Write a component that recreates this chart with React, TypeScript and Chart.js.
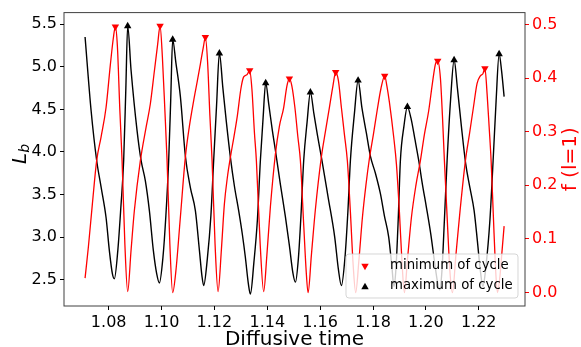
import React, { useEffect, useRef } from 'react';
import { Chart, registerables } from 'chart.js';

Chart.register(...registerables);

// L_b (left axis, black)
const blackTime = [1.07107, 1.07334, 1.07546, 1.07712, 1.07901, 1.08026, 1.0814, 1.08215, 1.08348, 1.08461, 1.08567, 1.0865, 1.08719, 1.08847, 1.09074, 1.09226, 1.09388, 1.0954, 1.09691, 1.09816, 1.09918, 1.1005, 1.10164, 1.1027, 1.10346, 1.10421, 1.10542, 1.10713, 1.10902, 1.11091, 1.1128, 1.11431, 1.11526, 1.11594, 1.11734, 1.11867, 1.11972, 1.12082, 1.12188, 1.12321, 1.12453, 1.12604, 1.12756, 1.12918, 1.13058, 1.13172, 1.13285, 1.13361, 1.13493, 1.13626, 1.13739, 1.13842, 1.1394, 1.14061, 1.14193, 1.14307, 1.14496, 1.14685, 1.14837, 1.14969, 1.15064, 1.15177, 1.15283, 1.15378, 1.15506, 1.15631, 1.15764, 1.15896, 1.16047, 1.16301, 1.16551, 1.16691, 1.16804, 1.16937, 1.1705, 1.17145, 1.17296, 1.17436, 1.1758, 1.1775, 1.17901, 1.18091, 1.1828, 1.18431, 1.18594, 1.18715, 1.18791, 1.18866, 1.18953, 1.19036, 1.19169, 1.19301, 1.19434, 1.19585, 1.19729, 1.19869, 1.2002, 1.20183, 1.20323, 1.20436, 1.20524, 1.20607, 1.20701, 1.20803, 1.20936, 1.21068, 1.21193, 1.21344, 1.21507, 1.21666, 1.21825, 1.2195, 1.22063, 1.22158, 1.22271, 1.22423, 1.22544, 1.22657, 1.22771, 1.22865, 1.2296];
const blackValue = [5.35, 4.49, 3.9, 3.59, 3.23, 2.84, 2.57, 2.51, 2.85, 3.35, 3.9, 4.75, 5.48, 4.96, 4.25, 3.9, 3.66, 3.31, 2.84, 2.57, 2.46, 2.75, 3.25, 3.9, 4.6, 5.32, 5.05, 4.65, 3.95, 3.58, 3.31, 2.85, 2.55, 2.43, 2.75, 3.25, 3.9, 4.55, 5.16, 4.75, 4.35, 3.94, 3.6, 3.31, 3.03, 2.76, 2.45, 2.33, 2.7, 3.2, 3.9, 4.4, 4.81, 4.55, 4.25, 4.02, 3.62, 3.24, 2.9, 2.58, 2.47, 2.75, 3.3, 3.9, 4.35, 4.7, 4.45, 4.2, 3.94, 3.47, 3.0, 2.62, 2.43, 2.75, 3.3, 3.9, 4.45, 4.84, 4.52, 4.22, 3.95, 3.75, 3.51, 3.25, 3.0, 2.65, 2.42, 2.62, 3.2, 3.9, 4.3, 4.53, 4.4, 4.15, 3.9, 3.62, 3.35, 3.04, 2.72, 2.48, 2.38, 2.6, 3.2, 3.9, 4.62, 5.08, 4.75, 4.3, 3.86, 3.58, 3.31, 2.95, 2.6, 2.42, 2.65, 3.2, 3.9, 4.6, 5.15, 4.95, 4.65];

// f (l=1) (right axis, red)
const redTime = [1.07107, 1.07232, 1.07383, 1.07546, 1.07712, 1.07901, 1.08064, 1.08178, 1.08253, 1.08329, 1.08423, 1.08507, 1.08613, 1.08719, 1.08847, 1.08972, 1.09199, 1.09415, 1.09577, 1.09729, 1.09854, 1.09944, 1.10031, 1.10126, 1.10209, 1.10315, 1.10421, 1.10542, 1.10713, 1.10902, 1.11053, 1.11216, 1.11356, 1.11469, 1.11583, 1.11658, 1.11742, 1.11829, 1.11912, 1.12025, 1.12139, 1.12264, 1.12377, 1.12491, 1.12604, 1.12737, 1.12869, 1.13002, 1.13107, 1.13229, 1.13335, 1.13418, 1.13512, 1.13588, 1.13732, 1.13864, 1.13985, 1.14118, 1.14307, 1.14458, 1.14621, 1.14742, 1.14837, 1.14931, 1.15045, 1.15158, 1.15253, 1.15385, 1.15472, 1.15544, 1.15669, 1.1582, 1.16047, 1.16199, 1.1635, 1.16483, 1.16588, 1.16691, 1.16804, 1.16918, 1.17031, 1.17145, 1.17251, 1.17345, 1.17466, 1.17599, 1.17731, 1.17864, 1.18015, 1.18155, 1.18299, 1.18442, 1.18526, 1.1862, 1.18783, 1.18885, 1.18999, 1.19093, 1.19188, 1.19301, 1.19453, 1.19623, 1.19793, 1.19945, 1.20107, 1.20247, 1.20361, 1.20448, 1.2055, 1.20626, 1.20701, 1.20815, 1.20909, 1.21004, 1.21136, 1.21288, 1.21496, 1.21647, 1.21798, 1.21938, 1.22063, 1.22158, 1.22234, 1.22317, 1.22392, 1.22468, 1.22555, 1.22631, 1.22707, 1.22801, 1.22877, 1.2296];
const redValue = [0.027, 0.085, 0.165, 0.246, 0.29, 0.345, 0.425, 0.475, 0.4955, 0.46, 0.34, 0.246, 0.09, 0.002, 0.079, 0.153, 0.246, 0.308, 0.352, 0.413, 0.463, 0.497, 0.44, 0.34, 0.246, 0.09, 0.0, 0.04, 0.141, 0.253, 0.31, 0.358, 0.395, 0.426, 0.458, 0.476, 0.43, 0.33, 0.246, 0.09, 0.002, 0.08, 0.165, 0.215, 0.252, 0.29, 0.33, 0.38, 0.402, 0.406, 0.414, 0.38, 0.3, 0.246, 0.09, 0.002, 0.07, 0.16, 0.258, 0.31, 0.345, 0.385, 0.399, 0.385, 0.345, 0.29, 0.246, 0.12, 0.04, 0.0, 0.07, 0.155, 0.253, 0.3, 0.345, 0.385, 0.411, 0.395, 0.345, 0.295, 0.245, 0.15, 0.05, 0.0, 0.06, 0.14, 0.2, 0.25, 0.295, 0.339, 0.38, 0.404, 0.385, 0.355, 0.29, 0.24, 0.15, 0.06, 0.0, 0.06, 0.14, 0.2, 0.246, 0.295, 0.339, 0.39, 0.426, 0.432, 0.4, 0.33, 0.246, 0.13, 0.04, 0.0, 0.07, 0.15, 0.246, 0.295, 0.345, 0.39, 0.404, 0.408, 0.418, 0.37, 0.31, 0.246, 0.14, 0.05, 0.0, 0.03, 0.075, 0.124];

// markers
const minTime = [1.08253, 1.09944, 1.11658, 1.13335, 1.14837, 1.16588, 1.18442, 1.20448, 1.22234];
const minValue = [0.4955, 0.497, 0.476, 0.414, 0.399, 0.411, 0.404, 0.432, 0.418];
const maxTime = [1.08719, 1.10421, 1.12188, 1.1394, 1.15631, 1.17436, 1.19301, 1.21068, 1.22771];
const maxValue = [5.48, 5.32, 5.16, 4.81, 4.7, 4.84, 4.53, 5.08, 5.15];

// ticks and text
const xTicks = [1.08, 1.1, 1.12, 1.14, 1.16, 1.18, 1.2, 1.22];
const leftTicks = [2.5, 3.0, 3.5, 4.0, 4.5, 5.0, 5.5];
const rightTicks = [0.0, 0.1, 0.2, 0.3, 0.4, 0.5];
const xTitle = 'Diffusive time';
const leftTitleMain = 'L';
const leftTitleSub = 'b';
const rightTitle = 'f (l=1)';
const legendLabels = ['minimum of cycle', 'maximum of cycle'];

const FONT = 'DejaVu Sans';
const RED = '#ff0000';

const pts = (xs: number[], ys: number[]) => xs.map((x, i) => ({ x, y: ys[i] }));

function triangle(ctx: CanvasRenderingContext2D, x: number, y: number, r: number, down: boolean, color: string) {
  const s = down ? -1 : 1;
  ctx.beginPath();
  ctx.moveTo(x, y - s * r);
  ctx.lineTo(x + r * 0.866, y + s * r * 0.5);
  ctx.lineTo(x - r * 0.866, y + s * r * 0.5);
  ctx.closePath();
  ctx.fillStyle = color;
  ctx.fill();
}

const decor = {
  id: 'decor',
  afterDraw(chart: any) {
    const { ctx, chartArea: a } = chart;
    ctx.save();
    // frame
    ctx.strokeStyle = 'rgba(0,0,0,0.75)';
    ctx.lineWidth = 1;
    ctx.strokeRect(a.left, a.top, a.right - a.left, a.bottom - a.top);

    // x title
    ctx.fillStyle = '#000';
    ctx.font = `20px "${FONT}"`;
    ctx.textAlign = 'center';
    ctx.textBaseline = 'alphabetic';
    ctx.fillText(xTitle, (a.left + a.right) / 2, 345);

    // left title L_b
    ctx.save();
    ctx.translate(0, 154);
    ctx.rotate(-Math.PI / 2);
    ctx.textAlign = 'left';
    ctx.font = `italic 20px "${FONT}"`;
    const wL = ctx.measureText(leftTitleMain).width;
    ctx.font = `italic 14px "${FONT}"`;
    const wb = ctx.measureText(leftTitleSub).width;
    const start = -(wL + wb) / 2;
    ctx.font = `italic 20px "${FONT}"`;
    ctx.fillText(leftTitleMain, start, 26);
    ctx.font = `italic 14px "${FONT}"`;
    ctx.fillText(leftTitleSub, start + wL, 29);
    ctx.restore();

    // right title
    ctx.save();
    ctx.translate(0, (a.top + a.bottom) / 2);
    ctx.rotate(-Math.PI / 2);
    ctx.textAlign = 'center';
    ctx.fillStyle = RED;
    ctx.font = `20px "${FONT}"`;
    ctx.fillText(rightTitle, 0, 576);
    ctx.restore();

    // legend
    const lx = 346, ly = 254, lw = 172, lh = 44, rr = 3;
    ctx.beginPath();
    ctx.moveTo(lx + rr, ly);
    ctx.arcTo(lx + lw, ly, lx + lw, ly + lh, rr);
    ctx.arcTo(lx + lw, ly + lh, lx, ly + lh, rr);
    ctx.arcTo(lx, ly + lh, lx, ly, rr);
    ctx.arcTo(lx, ly, lx + lw, ly, rr);
    ctx.closePath();
    ctx.fillStyle = 'rgba(255,255,255,0.8)';
    ctx.fill();
    ctx.strokeStyle = 'rgba(204,204,204,0.8)';
    ctx.lineWidth = 1;
    ctx.stroke();
    triangle(ctx, 365, 266, 4.3, true, RED);
    triangle(ctx, 365, 287, 4.3, false, '#000');
    ctx.fillStyle = '#000';
    ctx.font = `13.3px "${FONT}"`;
    ctx.textAlign = 'left';
    ctx.textBaseline = 'middle';
    ctx.fillText(legendLabels[0], 390, 266);
    ctx.fillText(legendLabels[1], 390, 286);
    ctx.restore();
  },
};

export default function App() {
  const ref = useRef<HTMLCanvasElement | null>(null);
  useEffect(() => {
    if (!ref.current) return;
    const tickFont = { family: FONT, size: 16 };
    const chart = new Chart(ref.current, {
      type: 'line',
      data: {
        datasets: [
          {
            label: legendLabels[0],
            data: pts(minTime, minValue),
            yAxisID: 'y1',
            showLine: false,
            pointStyle: 'triangle',
            rotation: 180,
            pointRadius: 4.3,
            pointBackgroundColor: RED,
            pointBorderColor: RED,
            pointBorderWidth: 0,
            order: 0,
          },
          {
            label: 'f',
            data: pts(redTime, redValue),
            yAxisID: 'y1',
            borderColor: RED,
            borderWidth: 1.3,
            pointRadius: 0,
            cubicInterpolationMode: 'monotone',
            order: 1,
          },
          {
            label: legendLabels[1],
            data: pts(maxTime, maxValue),
            yAxisID: 'y',
            showLine: false,
            pointStyle: 'triangle',
            pointRadius: 4.3,
            pointBackgroundColor: '#000',
            pointBorderColor: '#000',
            pointBorderWidth: 0,
            order: 2,
          },
          {
            label: 'L_b',
            data: pts(blackTime, blackValue),
            yAxisID: 'y',
            borderColor: '#000',
            borderWidth: 1.4,
            pointRadius: 0,
            cubicInterpolationMode: 'monotone',
            order: 3,
          },
        ],
      } as any,
      options: {
        animation: false,
        responsive: false,
        events: [],
        layout: { padding: { top: 12, left: 0, right: 0, bottom: 0 } },
        plugins: { legend: { display: false }, tooltip: { enabled: false } },
        scales: {
          x: {
            type: 'linear',
            min: 1.0631,
            max: 1.2375,
            afterBuildTicks: (s: any) => { s.ticks = xTicks.map((v) => ({ value: v })); },
            afterFit: (s: any) => { s.height = 41; },
            ticks: { callback: (v: any) => Number(v).toFixed(2), font: tickFont, color: '#000', padding: 3, autoSkip: false, maxRotation: 0 },
            grid: { drawOnChartArea: false, drawTicks: true, tickLength: 4, tickColor: '#000' },
            border: { display: false },
          },
          y: {
            type: 'linear',
            position: 'left',
            min: 2.19,
            max: 5.6375,
            afterBuildTicks: (s: any) => { s.ticks = leftTicks.map((v) => ({ value: v })); },
            afterFit: (s: any) => { s.width = 64; },
            ticks: { callback: (v: any) => Number(v).toFixed(1), font: tickFont, color: '#000', padding: 3, autoSkip: false },
            grid: { drawOnChartArea: false, drawTicks: true, tickLength: 4, tickColor: '#000' },
            border: { display: false },
          },
          y1: {
            type: 'linear',
            position: 'right',
            min: -0.0249,
            max: 0.5219,
            afterBuildTicks: (s: any) => { s.ticks = rightTicks.map((v) => ({ value: v })); },
            afterFit: (s: any) => { s.width = 56; },
            ticks: { callback: (v: any) => Number(v).toFixed(1), font: tickFont, color: RED, padding: 3, autoSkip: false },
            grid: { drawOnChartArea: false, drawTicks: true, tickLength: 4, tickColor: RED },
            border: { display: false },
          },
        },
      } as any,
      plugins: [decor],
    });
    return () => chart.destroy();
  }, []);
  return (
    <div style={{ position: 'fixed', left: 0, top: 0, width: 581, height: 347, background: '#fff' }}>
      <canvas ref={ref} width={581} height={347} style={{ display: 'block' }} />
    </div>
  );
}
